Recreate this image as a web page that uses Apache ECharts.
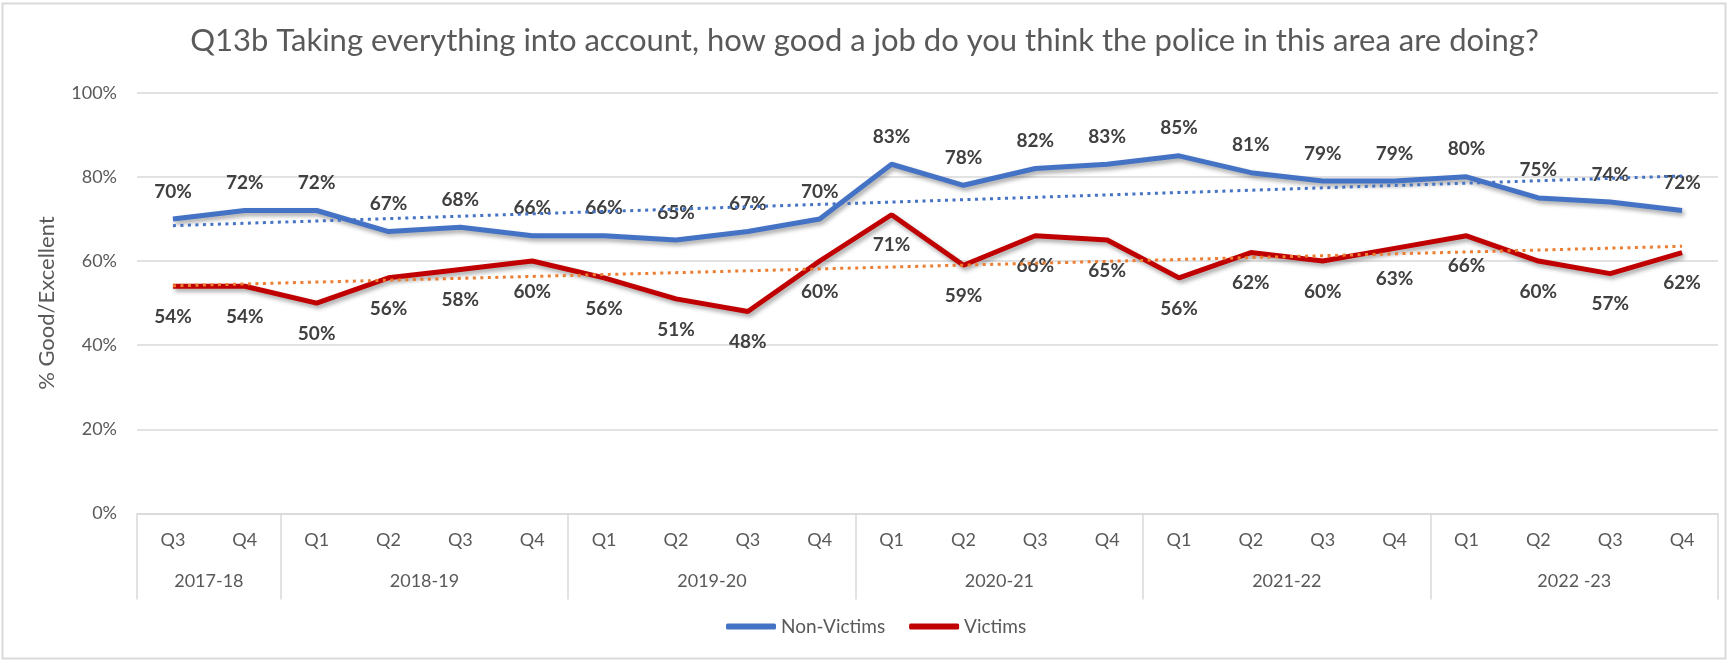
<!DOCTYPE html>
<html>
<head>
<meta charset="utf-8">
<script src="https://cdn.jsdelivr.net/npm/echarts@6/dist/echarts.min.js"></script>
<style>
  html, body { margin: 0; padding: 0; background: #ffffff; }
  #chart { width: 1729px; height: 661px; }
</style>
</head>
<body>
<div id="chart"></div>
<script>
// ---- data ----
const quarters = ['Q3','Q4','Q1','Q2','Q3','Q4','Q1','Q2','Q3','Q4','Q1','Q2','Q3','Q4','Q1','Q2','Q3','Q4','Q1','Q2','Q3','Q4'];
const yearGroups = ['2017-18','2018-19','2019-20','2020-21','2021-22','2022 -23'];
const groupSizes = [2, 4, 4, 4, 4, 4];
const nonVictims = [70,72,72,67,68,66,66,65,67,70,83,78,82,83,85,81,79,79,80,75,74,72];
const victims    = [54,54,50,56,58,60,56,51,48,60,71,59,66,65,56,62,60,63,66,60,57,62];
// linear trend lines: values at the first and last quarter
const nonVictimsTrend = [68.4, 80.2];
const victimsTrend    = [54.1, 63.5];
const yTicks = [0, 20, 40, 60, 80, 100];

const FONT = 'Lato';
const GRAY = '#595959';
const GRID = '#d9d9d9';

// second-level (financial year) axis: half-quarter slots so group edges and centres fall on slots
const nSlots = quarters.length * 2 + 1;
const yearData = new Array(nSlots).fill('');
const boundarySlots = new Set();
const centreSlots = new Set();
let start = 0;
groupSizes.forEach((n, g) => {
  boundarySlots.add(2 * start);
  centreSlots.add(2 * start + n);
  yearData[2 * start + n] = yearGroups[g];
  start += n;
});
boundarySlots.add(2 * start);

const last = quarters.length - 1;
const labelStyle = { show: true, formatter: p => p.value + '%', color: '#404040', fontFamily: FONT, fontWeight: 'bold', fontSize: 19 };
const shadow = { shadowColor: 'rgba(0,0,0,0.35)', shadowBlur: 4, shadowOffsetX: 2, shadowOffsetY: 3 };

const chart = echarts.init(document.getElementById('chart'), null, { renderer: 'canvas' });
chart.setOption({
  animation: false,
  backgroundColor: '#ffffff',
  textStyle: { fontFamily: FONT },
  graphic: [{
    type: 'rect', silent: true, z: -10,
    shape: { x: 2.5, y: 3.5, width: 1723, height: 655 },
    style: { fill: 'none', stroke: GRID, lineWidth: 2 }
  }],
  title: {
    text: 'Q13b Taking everything into account, how good a job do you think the police in this area are doing?',
    left: 'center', top: 20, padding: [5, 5, 5, 21],
    textStyle: { fontFamily: FONT, fontSize: 31, fontWeight: 'normal', color: GRAY }
  },
  legend: {
    data: ['Non-Victims', 'Victims'],
    bottom: 20, left: 721,
    icon: 'roundRect', itemWidth: 50, itemHeight: 6, itemGap: 24,
    textStyle: { fontFamily: FONT, fontSize: 19, color: GRAY }
  },
  grid: { left: 137, right: 11, top: 92.7, bottom: 147.5 },
  xAxis: [{
    type: 'category', data: quarters, boundaryGap: true,
    axisLine: { show: true, lineStyle: { color: GRID, width: 1.5 } },
    axisTick: { show: false },
    axisLabel: { interval: 0, margin: 18, color: GRAY, fontFamily: FONT, fontSize: 18 }
  }, {
    type: 'category', data: yearData, boundaryGap: false, position: 'bottom',
    axisLine: { show: false },
    axisTick: { show: true, length: 86, interval: (i) => boundarySlots.has(i), lineStyle: { color: GRID, width: 1.5 } },
    axisLabel: { interval: (i) => centreSlots.has(i), margin: 59, color: GRAY, fontFamily: FONT, fontSize: 18 }
  }],
  yAxis: {
    type: 'value', min: yTicks[0], max: yTicks[yTicks.length - 1], interval: yTicks[1] - yTicks[0],
    name: '% Good/Excellent', nameLocation: 'middle', nameGap: 79,
    nameTextStyle: { fontFamily: FONT, fontSize: 22, color: GRAY },
    axisLine: { show: false }, axisTick: { show: false },
    axisLabel: { formatter: '{value}%', margin: 20, color: GRAY, fontFamily: FONT, fontSize: 18 },
    splitLine: { lineStyle: { color: GRID, width: 1.5 } }
  },
  series: [{
    name: 'Non-Victims', type: 'line', data: nonVictims, xAxisIndex: 0,
    symbol: 'circle', symbolSize: 0.1, showSymbol: true,
    itemStyle: { color: '#4472C4' },
    lineStyle: Object.assign({ color: '#4472C4', width: 5 }, shadow),
    label: Object.assign({ position: 'top', distance: 18 }, labelStyle),
    z: 3
  }, {
    name: 'Victims', type: 'line', data: victims, xAxisIndex: 0,
    symbol: 'circle', symbolSize: 0.1, showSymbol: true,
    itemStyle: { color: '#C00000' },
    lineStyle: Object.assign({ color: '#C00000', width: 5 }, shadow),
    label: Object.assign({ position: 'bottom', distance: 21 }, labelStyle),
    z: 3
  }, {
    name: 'Non-Victims trend', type: 'line', xAxisIndex: 0,
    data: [[0, nonVictimsTrend[0]], [last, nonVictimsTrend[1]]],
    symbol: 'none', silent: true,
    lineStyle: { color: '#4472C4', width: 3, type: [3, 4.5] },
    z: 4
  }, {
    name: 'Victims trend', type: 'line', xAxisIndex: 0,
    data: [[0, victimsTrend[0]], [last, victimsTrend[1]]],
    symbol: 'none', silent: true,
    lineStyle: { color: '#ED7D31', width: 3, type: [3, 4.5] },
    z: 4
  }]
});
</script>
</body>
</html>
